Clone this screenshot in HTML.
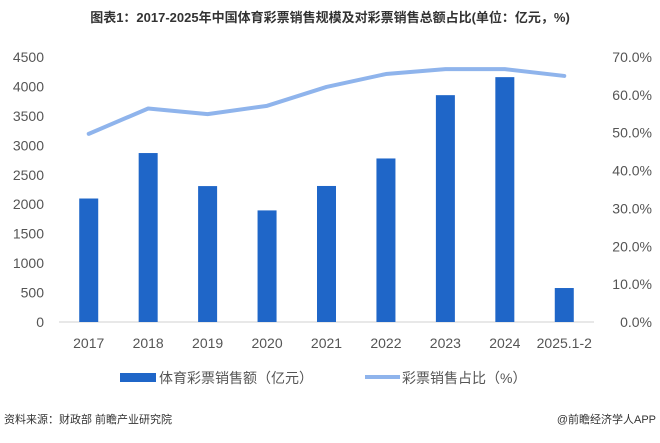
<!DOCTYPE html>
<html><head><meta charset="utf-8"><style>
body{margin:0;background:#fff;width:660px;height:438px;overflow:hidden;font-family:"Liberation Sans","Noto Sans CJK SC",sans-serif;}
svg text{font-family:"Liberation Sans","Noto Sans CJK SC",sans-serif;}
</style></head><body>
<svg id="chart" width="660" height="438" xmlns="http://www.w3.org/2000/svg">
<text x="330" y="22" text-anchor="middle" font-size="13" font-weight="bold" fill="#333">图表1：2017-2025年中国体育彩票销售规模及对彩票销售总额占比(单位：亿元，%)</text>
<g id="plot"></g>
<g>
<rect x="120" y="373" width="36" height="9" fill="#1f66c8"/>
<text x="159" y="383" font-size="14" fill="#555">体育彩票销售额（亿元）</text>
<line x1="365" y1="377" x2="400" y2="377" stroke="#8fb4ec" stroke-width="4"/>
<text x="402" y="383" font-size="14" fill="#555">彩票销售占比（%）</text>
</g>
<text x="4" y="423" font-size="11" fill="#333">资料来源：财政部 前瞻产业研究院</text>
<text x="656" y="423" text-anchor="end" font-size="11" fill="#333">@前瞻经济学人APP</text>
</svg>
<script>
const categories=["2017","2018","2019","2020","2021","2022","2023","2024","2025.1-2"];
const sales=[2097,2869,2308,1895,2310,2777,3852,4158,577];
const share=[49.7,56.4,54.9,57.1,62.1,65.5,66.8,66.8,65.0];
const leftTicks=[0,500,1000,1500,2000,2500,3000,3500,4000,4500];
const rightTicks=[0,10,20,30,40,50,60,70];
const ns="http://www.w3.org/2000/svg";
const g=document.getElementById('plot');
const x0=59,x1=594,yTop=57,yBot=322;
const step=(x1-x0)/categories.length;
const xc=i=>x0+step*(i+0.5);
const yL=v=>yBot-(v/4500)*(yBot-yTop);
const yR=v=>yBot-(v/70)*(yBot-yTop);
function mk(t,a){const e=document.createElementNS(ns,t);for(const k in a)e.setAttribute(k,a[k]);g.appendChild(e);return e;}
leftTicks.forEach(v=>{const e=mk('text',{x:44,y:yL(v)+5,'text-anchor':'end','font-size':14,fill:'#555'});e.textContent=v;

});
rightTicks.forEach(v=>{const e=mk('text',{x:652,y:yR(v)+5,'text-anchor':'end','font-size':14,fill:'#555'});e.textContent=v.toFixed(1)+'%';

});
const ax=mk('line',{x1:x0,y1:yBot,x2:x1,y2:yBot,stroke:'#d0d0d0','stroke-width':1});


sales.forEach((v,i)=>{const b=mk('rect',{x:xc(i)-9.5,y:yL(v),width:19,height:yBot-yL(v),fill:'#1f66c8'});

});
categories.forEach((c,i)=>{const t=mk('text',{x:xc(i),y:348,'text-anchor':'middle','font-size':14,fill:'#555'});t.textContent=c;

});
const pts=share.map((v,i)=>xc(i)+','+yR(v)).join(' ');
const l=mk('polyline',{points:pts,fill:'none',stroke:'#8fb4ec','stroke-width':4,'stroke-linejoin':'round','stroke-linecap':'round'});


</script>
</body></html>
